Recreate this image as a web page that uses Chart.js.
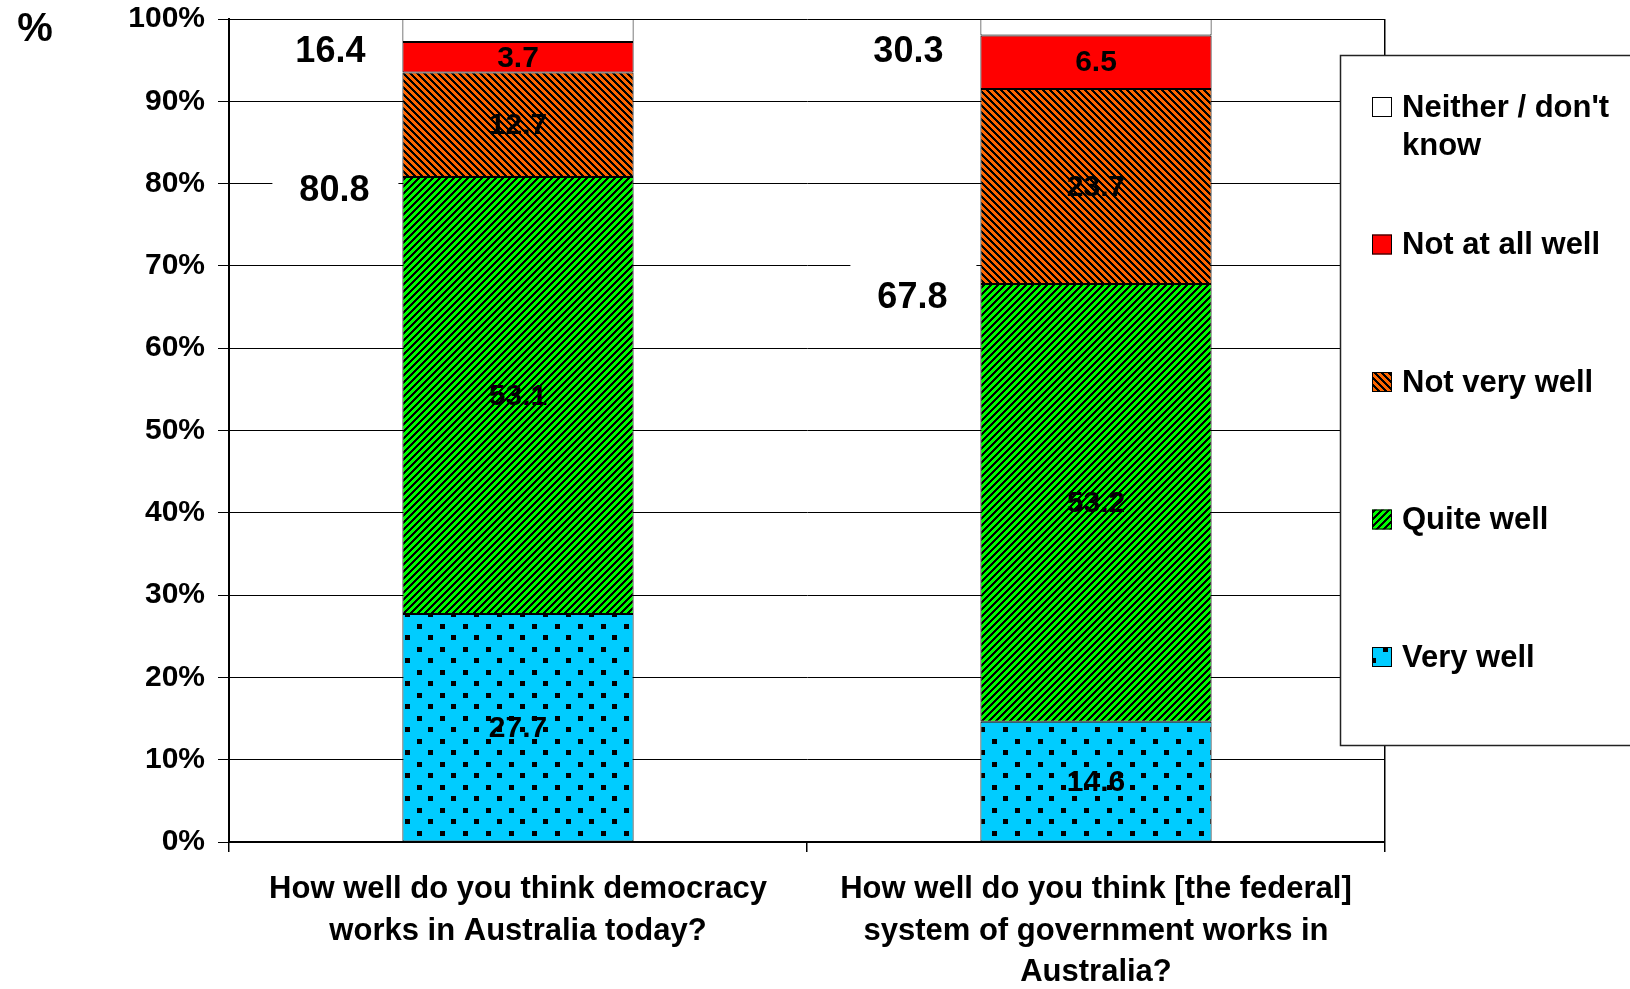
<!DOCTYPE html>
<html>
<head>
<meta charset="utf-8">
<title>How well democracy works in Australia</title>
<script src="https://cdn.jsdelivr.net/npm/chart.js@4.4.1/dist/chart.umd.min.js"></script>
<style>
    body { margin: 0; background: #fff; }
    canvas { display: block; }
</style>
</head>
<body>
<canvas id="wellChart" width="1630" height="989"></canvas>
<script>
const questions = [
    ['How well do you think democracy', 'works in Australia today?'],
    ['How well do you think [the federal]', 'system of government works in', 'Australia?']
];
const veryWell = [27.7, 14.6];
const quiteWell = [53.1, 53.2];
const notVeryWell = [12.7, 23.7];
const notAtAllWell = [3.7, 6.5];
const neither = [2.8, 2.0];
const wellTotals = [80.8, 67.8];
const notWellTotals = [16.4, 30.3];
const yTickLabels = ['0%', '10%', '20%', '30%', '40%', '50%', '60%', '70%', '80%', '90%', '100%'];

const FONT = "'Liberation Sans', Arial, sans-serif";
Chart.defaults.font.family = FONT;
Chart.defaults.color = '#000';

const ctx = document.getElementById('wellChart').getContext('2d');

// hatch fills like the old excel ones
function stripes(color, up) {
    const n = 7;
    const c = document.createElement('canvas');
    c.width = n; c.height = n;
    const g = c.getContext('2d');
    g.fillStyle = color;
    g.fillRect(0, 0, n, n);
    g.fillStyle = '#000';
    for (let y = 0; y < n; y++) {
        for (let x = 0; x < n; x++) {
            const k = up ? (x + y) % n : (x - y + n) % n;
            if (k < 3) g.fillRect(x, y, 1, 1);
        }
    }
    return ctx.createPattern(c, 'repeat');
}

function dots(color) {
    const c = document.createElement('canvas');
    c.width = 23; c.height = 23;
    const g = c.getContext('2d');
    g.fillStyle = color;
    g.fillRect(0, 0, 23, 23);
    g.fillStyle = '#000';
    g.fillRect(3, 3, 5, 5);
    g.fillRect(14, 14, 5, 5);
    return ctx.createPattern(c, 'repeat');
}

const fills = {
    veryWell: dots('#00CCFF'),
    quiteWell: stripes('#00FF00', true),
    notVeryWell: stripes('#FF6600', false),
    notAtAllWell: '#FF0000',
    neither: '#FFFFFF'
};

function bar(label, data, fill, showValue) {
    return {
        label: label,
        data: data,
        backgroundColor: fill,
        borderColor: '#000',
        borderWidth: 1,
        borderSkipped: false,
        showValue: showValue
    };
}

const legendItems = [
    { lines: ["Neither / don't", 'know'], fill: fills.neither },
    { lines: ['Not at all well'], fill: fills.notAtAllWell },
    { lines: ['Not very well'], fill: fills.notVeryWell },
    { lines: ['Quite well'], fill: fills.quiteWell },
    { lines: ['Very well'], fill: fills.veryWell }
];

const labelsPlugin = {
    id: 'labels',
    beforeDraw(chart) {
        const c = chart.ctx;
        c.save();
        c.fillStyle = '#fff';
        c.fillRect(0, 0, chart.width, chart.height);
        c.restore();
    },
    beforeDatasetsDraw(chart) {
        // white boxes that break the gridlines behind the "well" totals
        const c = chart.ctx;
        const yScale = chart.scales.y;
        const meta = chart.getDatasetMeta(0);
        c.save();
        c.fillStyle = '#fff';
        meta.data.forEach((el, i) => {
            const x = el.x - el.width / 2 - 68;
            const y = yScale.getPixelForValue(wellTotals[i]) + 14;
            c.fillRect(x - 62, y - 40, 126, 78);
        });
        c.restore();
    },
    afterDatasetsDraw(chart) {
        const c = chart.ctx;
        const area = chart.chartArea;
        const yScale = chart.scales.y;
        c.save();
        c.fillStyle = '#000';
        c.textAlign = 'center';
        c.textBaseline = 'middle';

        // values inside the segments
        c.font = 'bold 30px ' + FONT;
        chart.data.datasets.forEach((ds, d) => {
            if (!ds.showValue) return;
            chart.getDatasetMeta(d).data.forEach((el, i) => {
                c.fillText(ds.data[i].toFixed(1), el.x, (el.y + el.base) / 2 + 1);
            });
        });

        // totals left of each bar
        c.font = 'bold 36px ' + FONT;
        chart.getDatasetMeta(0).data.forEach((el, i) => {
            const left = el.x - el.width / 2;
            c.fillText(notWellTotals[i].toFixed(1), left - 72, area.top + 33);
            c.fillText(wellTotals[i].toFixed(1), left - 68, yScale.getPixelForValue(wellTotals[i]) + 14);
        });

        // the % sign top left
        c.font = 'bold 40px ' + FONT;
        c.fillText('%', 35, 30);
        c.restore();
    },
    afterDraw(chart) {
        const c = chart.ctx;
        const area = chart.chartArea;
        const left = area.right - 45;
        const top = area.top + 36;
        c.save();
        c.strokeStyle = '#222';
        c.lineWidth = 1.5;
        c.fillStyle = '#fff';
        c.fillRect(left, top, 400, 690);
        c.strokeRect(left + 0.5, top + 0.5, 400, 690);

        c.font = 'bold 31px ' + FONT;
        c.textAlign = 'left';
        c.textBaseline = 'middle';
        legendItems.forEach((item, i) => {
            const y = top + 52 + i * 137.5;
            c.fillStyle = item.fill;
            c.fillRect(left + 32, y - 10, 20, 20);
            c.lineWidth = 1;
            c.strokeStyle = '#000';
            c.strokeRect(left + 32.5, y - 9.5, 19, 19);
            c.fillStyle = '#000';
            item.lines.forEach((line, j) => {
                c.fillText(line, left + 62, y + 1 + j * 38);
            });
        });
        c.restore();
    }
};

new Chart(ctx, {
    type: 'bar',
    data: {
        labels: questions,
        datasets: [
            bar('Very well', veryWell, fills.veryWell, true),
            bar('Quite well', quiteWell, fills.quiteWell, true),
            bar('Not very well', notVeryWell, fills.notVeryWell, true),
            bar('Not at all well', notAtAllWell, fills.notAtAllWell, true),
            bar("Neither / don't know", neither, fills.neither, false)
        ]
    },
    options: {
        responsive: false,
        animation: false,
        barPercentage: 0.4,
        categoryPercentage: 1,
        layout: {
            padding: { left: 0, top: 19, right: 245, bottom: 0 }
        },
        plugins: {
            legend: { display: false },
            title: { display: false },
            tooltip: { enabled: false }
        },
        scales: {
            x: {
                stacked: true,
                offset: true,
                grid: {
                    offset: true,
                    color: c => c.index === 1 ? 'rgba(0,0,0,0)' : '#000',
                    tickColor: '#000',
                    tickLength: 10,
                    lineWidth: 1.5
                },
                border: { color: '#000', width: 2 },
                ticks: {
                    font: { size: 31, weight: 'bold', lineHeight: 1.34 },
                    color: '#000',
                    padding: 17,
                    maxRotation: 0,
                    autoSkip: false
                },
                afterFit: scale => { scale.height = 147; }
            },
            y: {
                stacked: true,
                min: 0,
                max: 100,
                grid: {
                    color: '#000',
                    lineWidth: 1,
                    tickLength: 11
                },
                border: { color: '#000', width: 2 },
                ticks: {
                    stepSize: 10,
                    font: { size: 30, weight: 'bold' },
                    color: '#000',
                    padding: 13,
                    callback: (value, index) => yTickLabels[index]
                },
                afterFit: scale => {
                    scale.width = 229;
                    scale.paddingTop = 0;
                }
            }
        }
    },
    plugins: [labelsPlugin]
});
</script>
</body>
</html>
